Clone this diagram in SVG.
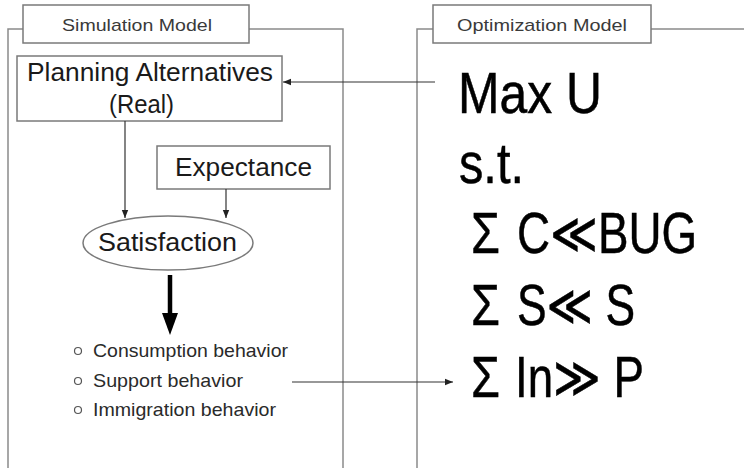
<svg xmlns="http://www.w3.org/2000/svg" width="744" height="468" viewBox="0 0 744 468">
  <style>
    .frame { fill: none; stroke: #8a8a8a; stroke-width: 1.5; }
    .box { fill: #ffffff; stroke: #7a7a7a; stroke-width: 1.5; }
    .title { font-family: "Liberation Sans", Arial, sans-serif; font-size: 17px; fill: #3a3a3a; text-anchor: middle; }
    .label { font-family: "Liberation Sans", Arial, sans-serif; font-size: 26px; fill: #1a1a1a; }
    .item { font-family: "Liberation Sans", Arial, sans-serif; font-size: 19px; fill: #2a2a2a; }
    .bullet { fill: none; stroke: #555; stroke-width: 1.2; }
    .formula { font-family: "Liberation Sans", "DejaVu Sans", Arial, sans-serif; font-size: 57px; fill: #000; stroke: #000; stroke-width: 0.5; }
    .conn { fill: none; stroke: #333; stroke-width: 1.2; }
  </style>
  <defs>
    <marker id="tip" viewBox="0 0 10 10" refX="10" refY="5" markerWidth="8" markerHeight="8" markerUnits="userSpaceOnUse" orient="auto">
      <path d="M0,1 L10,5 L0,9 Z" fill="#222"/>
    </marker>
  </defs>

  <!-- Simulation model panel -->
  <g id="simulation-panel">
    <path class="frame" d="M8,468 V29 H23 M249,29 H343 V468"/>
    <rect class="box" x="23" y="5" width="226" height="38"/>
    <text class="title" x="137" y="31" textLength="150" lengthAdjust="spacingAndGlyphs">Simulation Model</text>
  </g>

  <!-- Optimization model panel -->
  <g id="optimization-panel">
    <path class="frame" d="M417,468 V29 H433 M651,29 H744"/>
    <rect class="box" x="433" y="5" width="218" height="38"/>
    <text class="title" x="542" y="31" textLength="170" lengthAdjust="spacingAndGlyphs">Optimization Model</text>
  </g>

  <g id="planning">
    <rect class="box" x="17" y="56" width="265" height="65"/>
    <text class="label" x="27" y="81" textLength="246" lengthAdjust="spacingAndGlyphs">Planning Alternatives</text>
    <text class="label" x="109" y="113" textLength="65" lengthAdjust="spacingAndGlyphs">(Real)</text>
  </g>

  <g id="expectance">
    <rect class="box" x="157" y="146" width="173" height="43"/>
    <text class="label" x="175" y="176" textLength="137" lengthAdjust="spacingAndGlyphs">Expectance</text>
  </g>

  <g id="satisfaction">
    <ellipse class="box" cx="168" cy="243" rx="85" ry="27"/>
    <text class="label" x="98" y="251" textLength="139" lengthAdjust="spacingAndGlyphs" font-size="25">Satisfaction</text>
  </g>

  <g id="behaviors">
    <circle class="bullet" cx="78" cy="351" r="3.5"/>
    <text class="item" x="93" y="357" textLength="195" lengthAdjust="spacingAndGlyphs">Consumption behavior</text>
    <circle class="bullet" cx="78" cy="381" r="3.5"/>
    <text class="item" x="93" y="387" textLength="150" lengthAdjust="spacingAndGlyphs">Support behavior</text>
    <circle class="bullet" cx="78" cy="410" r="3.5"/>
    <text class="item" x="93" y="416" textLength="183" lengthAdjust="spacingAndGlyphs">Immigration behavior</text>
  </g>

  <g id="model">
    <text class="formula" x="458" y="113" textLength="144" lengthAdjust="spacingAndGlyphs">Max U</text>
    <text class="formula" x="459" y="183" textLength="65" lengthAdjust="spacingAndGlyphs">s.t.</text>
    <!-- constraint rows: summation sign, then the relation -->
    <text class="formula" x="471" y="253" textLength="29" lengthAdjust="spacingAndGlyphs">Σ</text>
    <text class="formula" x="517" y="253" textLength="180" lengthAdjust="spacingAndGlyphs">C≪BUG</text>
    <text class="formula" x="471" y="325" textLength="29" lengthAdjust="spacingAndGlyphs">Σ</text>
    <text class="formula" x="517" y="325" textLength="118" lengthAdjust="spacingAndGlyphs">S≪ S</text>
    <text class="formula" x="471" y="397" textLength="29" lengthAdjust="spacingAndGlyphs">Σ</text>
    <text class="formula" x="515" y="397" textLength="129" lengthAdjust="spacingAndGlyphs">In≫ P</text>
  </g>

  <!-- Connectors -->
  <g id="connectors">
    <line class="conn" x1="435" y1="82" x2="283" y2="82" marker-end="url(#tip)"/>
    <line class="conn" x1="125" y1="121" x2="125" y2="218" marker-end="url(#tip)"/>
    <line class="conn" x1="226" y1="189" x2="226" y2="218" marker-end="url(#tip)"/>
    <line class="conn" x1="292" y1="382" x2="453" y2="382" marker-end="url(#tip)"/>
    <line x1="170" y1="275" x2="170" y2="314" stroke="#000" stroke-width="4.5"/>
    <path d="M162,313 L178,313 L170,335 Z" fill="#000"/>
  </g>
</svg>
